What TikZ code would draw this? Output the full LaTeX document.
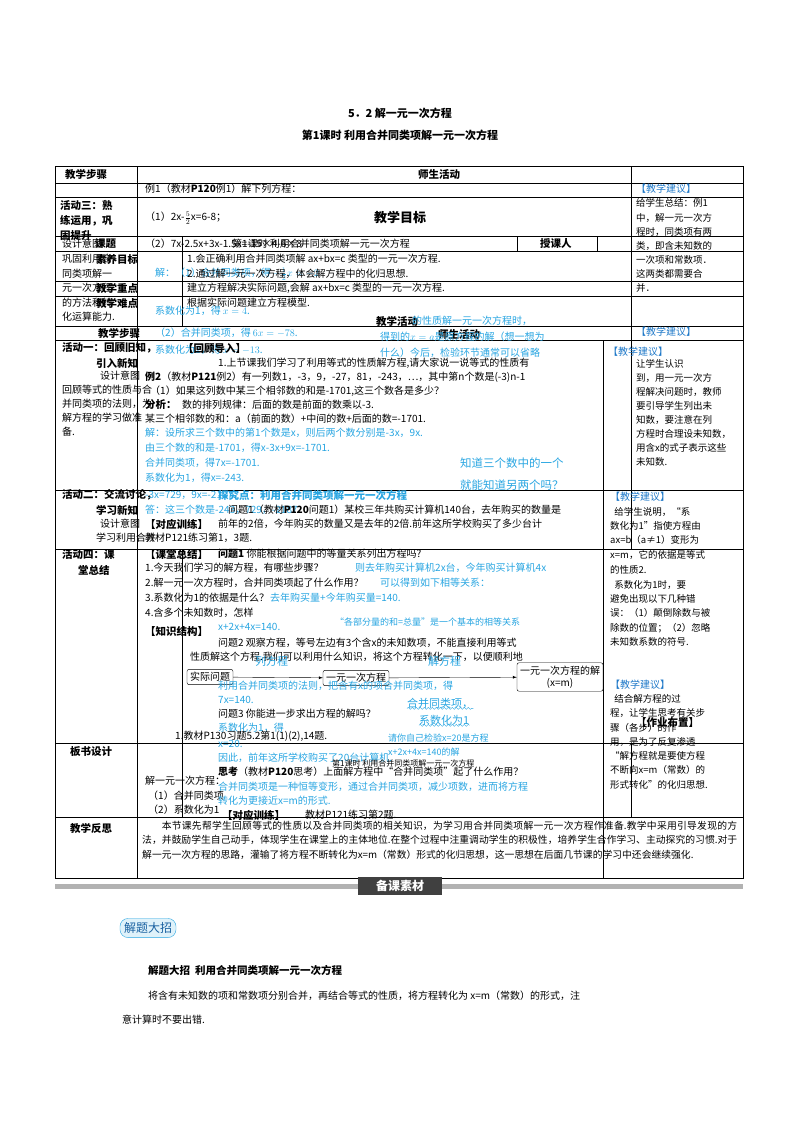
\documentclass[tikz,border=0pt]{standalone}
\usepackage{fontspec}
\setmainfont{Liberation Serif}
\newfontfamily\cjk{Noto Sans CJK SC}
\XeTeXlinebreaklocale "zh"
\XeTeXlinebreakskip=0pt plus 1pt
\usetikzlibrary{decorations.pathmorphing}
\definecolor{hb}{RGB}{40,165,225}
\definecolor{tb}{RGB}{30,120,200}
\tikzset{t/.style={anchor=west,inner sep=0pt,font=\cjk\fontsize{10}{12}\selectfont},
 b/.style={t,font=\cjk\bfseries\fontsize{10.5}{12}\selectfont},
 u/.style={t,text=hb},
 j/.style={t,text=tb},
 g/.style={line width=0.6pt},
 fb/.style={draw,rounded corners=2pt,inner sep=3pt,font=\cjk\fontsize{10}{12}\selectfont}}
\begin{document}
\begin{tikzpicture}[x=1pt,y=-1pt]
\useasboundingbox (0,0) rectangle (800,1132);
\node[font=\cjk\bfseries\fontsize{11}{13}\selectfont] (ti1) at (400,113) {5．2 解一元一次方程};
\node[font=\cjk\bfseries\fontsize{11}{13}\selectfont] (ti2) at (400,135) {第1课时\ 利用合并同类项解一元一次方程};
% grid
\draw[g] (55,166) rectangle (743,878);
\foreach \yy in {183,197,236,251,281,296,326,340,490,549,743,817} \draw[g] (55,\yy) -- (743,\yy);
\draw[g] (137,166) -- (137,878);
\draw[g] (631,166) -- (631,549);
\draw[g] (631,743) -- (631,817);
\draw[g] (182,236) -- (182,326);
\draw[g] (182,549) -- (182,817);
\draw[g] (603,340) -- (603,878);
\draw[g] (517,236) -- (517,251);\draw[g] (597,236) -- (597,251);
\node[b] (h1) at (65,174) {教学步骤}; \node[b] (h2) at (418,174) {师生活动};
\node[t] at (145,189) {例1（教材\textbf{P120}例1）解下列方程：};
\node[j] at (636,189) {【教学建议】};
\node[b] at (60,205) {活动三：熟}; \node[b] at (60,221) {练运用，巩}; \node[b] at (60,236) {固提升};
\node[t] at (145,218) {（1）2x-$\frac{5}{2}$x=6-8；};
\node[font=\cjk\bfseries\fontsize{13}{15}\selectfont] at (400,218) {教学目标};
\foreach \s/\yy in {给学生总结：例1/203,中，解一元一次方/218,程时，同类项有两/232,类，即含未知数的/246,一次项和常数项．/260,这两类都需要合/274,并．/288} \node[t,font=\cjk\fontsize{9.5}{11}\selectfont] at (636,\yy) {\s};
\node[t] at (62,244) {设计意图}; \node[b] at (95,244) {课题};
\node[t] at (145,244) {（2）7x-2.5x+3x-1.5x=-15×4-6×3};
\node[t] at (232,244) {第1课时 利用合并同类项解一元一次方程};
\node[b] at (540,244) {授课人};
\node[t] at (62,259) {巩固利用合}; \node[b] at (96,259) {素养目标};
\node[t] at (187,259) {1.会正确利用合并同类项解 \textit{ax+bx=c} 类型的一元一次方程.};
\node[t] at (62,274) {同类项解一}; \node[u] at (155,274) {解：（1）合并同类项，得 $-\frac12x=-2$};
\node[t] at (187,274) {2.通过解一元一次方程，体会解方程中的化归思想.};
\node[t] at (62,288) {元一次方程}; \node[b] at (96,288) {教学重点};
\node[t] at (187,288) {建立方程解决实际问题,会解 \textit{ax+bx=c} 类型的一元一次方程.};
\node[t] at (62,303) {的方法和转}; \node[b] at (96,303) {教学难点};
\node[t] at (187,303) {根据实际问题建立方程模型.};
\node[u] at (155,311) {系数化为1，得 $x=4$.};
\node[t] at (62,317) {化运算能力.};
\node[b] at (376,321) {教学活动};
\node[u,font=\cjk\itshape\fontsize{10}{12}\selectfont] at (412,321) {的性质解一元一次方程时，};
\node[b] at (98,333) {教学步骤};\node[u] at (155,333) {（2）合并同类项，得 $6x=-78$.};
\node[b] at (438,334) {师生活动};
\node[u] at (380,337) {得到的$x=a$是原方程的解（想一想为};
\node[u] at (380,353) {什么）今后，检验环节通常可以省略};
\node[j] at (636,332) {【教学建议】};
\node[j] at (608,352) {【教学建议】};
\node[b] at (62,348) {活动一：回顾旧知，}; \node[u] at (155,350) {系数化为1，得 $x=-13$.};
\node[b] at (183,349) {【回顾导入】};
\node[b] at (96,363) {引入新知};
\node[t] at (218,363) {1.上节课我们学习了利用等式的性质解方程,请大家说一说等式的性质有};
\node[t] at (100,376) {设计意图};
\node[t] at (145,377) {\textbf{例2}（教材\textbf{P121}例2）有一列数1，-3，9，-27，81，-243，…，其中第n个数是(-3)n-1};
\node[t] at (62,390) {回顾等式的性质与合}; \node[t] at (150,391) {（1）如果这列数中某三个相邻数的和是-1701,这三个数各是多少？};
\node[t] at (62,404) {并同类项的法则，为}; \node[b] at (145,405) {分析：}; \node[t] at (182,405) {数的排列规律：后面的数是前面的数乘以-3.};
\node[t] at (62,418) {解方程的学习做准}; \node[t] at (145,419) {某三个相邻数的和：\textit{a}（前面的数）+中间的数+后面的数=-1701.};
\node[t] at (62,432) {备.};
\node[u] at (145,433) {解：设所求三个数中的第1个数是\textit{x}，则后两个数分别是-3\textit{x}，9\textit{x}.};
\node[u] at (145,448) {由三个数的和是-1701，得\textit{x}-3\textit{x}+9\textit{x}=-1701.};
\node[u] at (145,463) {合并同类项，得7\textit{x}=-1701.};
\node[u] at (145,478) {系数化为1，得\textit{x}=-243.};
\node[u,font=\cjk\fontsize{11.5}{13}\selectfont] at (460,463) {知道三个数中的一个};
\node[u,font=\cjk\fontsize{11.5}{13}\selectfont] at (460,485) {就能知道另两个吗？};
\foreach \s/\yy in {让学生认识/364,到，用一元一次方/378,程解决问题时，教师/392,要引导学生列出未/406,知数，要注意在列/420,方程时合理设未知数，/434,用含x的式子表示这些/448,未知数./462} \node[t,font=\cjk\fontsize{9.5}{11}\selectfont] at (636,\yy) {\s};
\node[b] at (62,495) {活动二：交流讨论，}; \node[u] at (145,495) {-3\textit{x}=729，9\textit{x}=-2187.};
\node[u,font=\cjk\bfseries\fontsize{10.5}{12}\selectfont] at (218,495) {探究点：利用合并同类项解一元一次方程};
\node[b] at (96,510) {学习新知}; \node[u] at (145,510) {答：这三个数是-243，729，-2187.};
\node[t] at (228,510) {问题1（教材\textbf{P120}问题1）某校三年共购买计算机140台，去年购买的数量是};
\node[t] at (100,524) {设计意图}; \node[b] at (145,524) {【对应训练】};
\node[t] at (218,524) {前年的2倍，今年购买的数量又是去年的2倍.前年这所学校购买了多少台计};
\node[t] at (96,538) {学习利用合并}; \node[t] at (145,538) {教材P121练习第1，3题.};
\node[b] at (62,554) {活动四：课}; \node[b] at (145,554) {【课堂总结】};
\node[t] at (218,554) {\textbf{问题1} 你能根据问题中的等量关系列出方程吗?};
\node[b] at (78,570) {堂总结};
\node[t] at (145,568) {1.今天我们学习的解方程，有哪些步骤？};
\node[u] at (355,568) {则去年购买计算机2\textit{x}台，今年购买计算机4\textit{x}};
\node[t] at (145,583) {2.解一元一次方程时，合并同类项起了什么作用？};
\node[u] at (380,583) {可以得到如下相等关系：};
\node[t] at (145,598) {3.系数化为1的依据是什么？};
\node[u] at (270,598) {去年购买量+今年购买量=140.};
\node[t] at (145,613) {4.含多个未知数时，怎样};
\node[u] at (218,627) {\textit{x}+2\textit{x}+4\textit{x}=140.};
\node[u,font=\cjk\itshape\fontsize{9}{11}\selectfont] at (335,622) {“各部分量的和=总量”是一个基本的相等关系};
\node[b] at (145,631) {【知识结构】};
\node[t] at (218,643) {问题2 观察方程，等号左边有3个含\textit{x}的未知数项，不能直接利用等式};
\node[t] at (190,657) {性质解这个方程.我们可以利用什么知识，将这个方程转化一下，以便顺利地};
\node[fb] (p1) at (210,677) {实际问题};
\node[fb] (p2) at (356,678) {一元一次方程};
\node[fb,align=center] (p3) at (560,677) {一元一次方程的解\\ (\textit{x=m})};
\draw[-latex] (p1) -- (p2);
\draw[-latex] (p2) -- (p3);
\node[u,font=\cjk\fontsize{11}{13}\selectfont] at (255,661) {列方程};
\node[u,font=\cjk\fontsize{11}{13}\selectfont] at (428,661) {解方程};
\node[u] at (218,686) {利用合并同类项的法则，把含有\textit{x}的项合并同类项，得};
\node[u,font=\cjk\fontsize{11}{13}\selectfont] (wv1) at (407,703) {合并同类项，};
\node[u,font=\cjk\fontsize{11}{13}\selectfont] (wv2) at (419,720) {系数化为1};
\draw[hb,decorate,decoration={snake,amplitude=1pt,segment length=4pt}] (wv1.south west) -- (wv1.south east);
\draw[hb,decorate,decoration={snake,amplitude=1pt,segment length=4pt}] (wv2.south west) -- (wv2.south east);
\node[u] at (218,700) {7\textit{x}=140.};
\node[t] at (218,714) {问题3 你能进一步求出方程的解吗？};
\node[u] at (218,728) {系数化为1，得};
\node[t] at (175,736) {1.教材P130习题5.2第1(1)(2),14题.};
\node[u] at (218,744) {\textit{x}=20.};
\node[u,font=\cjk\itshape\fontsize{9}{11}\selectfont] at (388,738) {请你自己检验\textit{x}=20是方程};
\node[u,font=\cjk\itshape\fontsize{9}{11}\selectfont] at (388,752) {\textit{x}+2\textit{x}+4\textit{x}=140的解};
\node[b] at (70,752) {板书设计};
\node[u] at (218,758) {因此，前年这所学校购买了20台计算机.};
\node[t,font=\cjk\fontsize{8}{10}\selectfont] at (332,763) {第1课时 利用合并同类项解一元一次方程};
\node[t] at (218,772) {\textbf{思考}（教材\textbf{P120}思考）上面解方程中“合并同类项”起了什么作用？};
\node[t] at (145,781) {解一元一次方程：};
\node[u] at (218,787) {合并同类项是一种恒等变形，通过合并同类项，减少项数，进而将方程};
\node[t] at (148,796) {（1）合并同类项};
\node[u] at (218,801) {转化为更接近\textit{x=m}的形式.};
\node[t] at (148,810) {（2）系数化为1};
\node[b] at (222,815) {【对应训练】}; \node[t] at (305,815) {教材P121练习第2题.};
\node[j] at (610,497) {【教学建议】};
\foreach \s/\yy in {\ \ 给学生说明，“系/512,数化为1”指使方程由/526,ax=b（a≠1）变形为/540,x=m，它的依据是等式/555,的性质2./570,\ \ 系数化为1时，要/585,避免出现以下几种错/599,误：（1）颠倒除数与被/613,除数的位置；（2）忽略/628,未知数系数的符号./642,\ \ 结合解方程的过/699,程，让学生思考有关步/713,骤（各步）的作/728,用，是为了反复渗透/742,“解方程就是要使方程/756,不断向x=m（常数）的/770,形式转化”的化归思想./785} \node[t,font=\cjk\fontsize{9.5}{11}\selectfont] at (610,\yy) {\s};
\node[j] at (610,685) {【教学建议】};
\node[b] at (636,722) {【作业布置】};
\node[b] at (70,828) {教学反思};
\node[anchor=north west,inner sep=0pt,text width=595pt,align=justify,font=\cjk\fontsize{9.8}{14.3}\selectfont] at (142,821) {\hspace*{2em}本节课先帮学生回顾等式的性质以及合并同类项的相关知识，为学习用合并同类项解一元一次方程作准备.教学中采用引导发现的方法，并鼓励学生自己动手，体现学生在课堂上的主体地位.在整个过程中注重调动学生的积极性，培养学生合作学习、主动探究的习惯.对于解一元一次方程的思路，灌输了将方程不断转化为x=m（常数）形式的化归思想，这一思想在后面几节课的学习中还会继续强化.};
% banner
\fill[gray!60] (55,884) rectangle (743,889);
\node[fill=black!75,text=white,font=\cjk\bfseries\fontsize{12}{14}\selectfont,inner xsep=18pt,inner ysep=3pt] (bk) at (400,886) {备课素材};
\node[draw=hb,fill=hb!15,rounded corners=8pt,font=\cjk\fontsize{12}{14}\selectfont,text=tb!80!black,inner sep=4pt] (jt) at (148,928) {解题大招};
\node[b] at (148,970) {解题大招\ \ 利用合并同类项解一元一次方程};
\node[t] at (148,996) {将含有未知数的项和常数项分别合并，再结合等式的性质，将方程转化为 x=m（常数）的形式，注};
\node[t] at (122,1020) {意计算时不要出错.};
\end{tikzpicture}
\end{document}
